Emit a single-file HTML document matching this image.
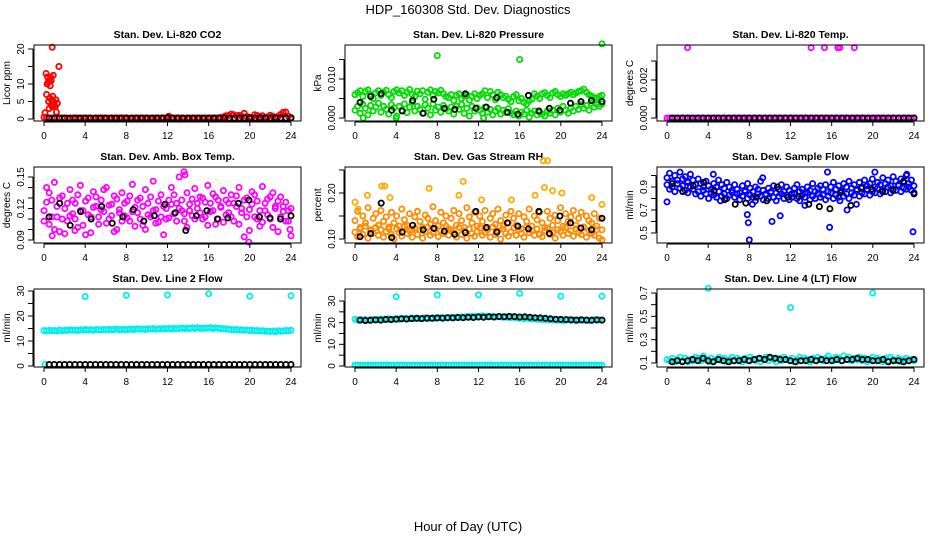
<!DOCTYPE html>
<html><head><meta charset="utf-8">
<style>
html,body{margin:0;padding:0;background:#fff;}
svg{display:block;font-family:"Liberation Sans",sans-serif;}
</style></head>
<body>
<svg id="chart" width="936" height="540" viewBox="0 0 936 540">
<text x="468" y="14" text-anchor="middle" font-size="13">HDP_160308  Std. Dev. Diagnostics</text>
<text x="468" y="531" text-anchor="middle" font-size="13">Hour of Day (UTC)</text>
</svg>
<script>
// ---------- data ----------
const xTicks = [0,4,8,12,16,20,24];
// Panel 1: CO2
const co2Red = [0.5,0.4,0.3,0.3,0.2,0.3,0.3,0.3,0.2,0.3,0.3,0.3,
0.3,0.3,0.2,0.3,0.3,0.3,0.3,0.2,0.3,0.3,0.3,0.3,
0.3,0.2,0.3,0.3,0.3,0.3,0.3,0.3,0.3,0.2,0.3,0.3,
0.3,0.3,0.3,0.3,0.3,0.2,0.3,0.3,0.3,0.3,0.3,0.3,
0.8,0.3,0.3,0.3,0.3,0.3,0.2,0.3,0.3,0.3,0.3,0.3,
0.3,0.3,0.3,0.3,0.3,0.3,0.3,0.3,0.4,0.6,0.9,1.0,
1.4,1.2,0.9,1.1,0.8,1.6,0.7,0.5,0.4,1.2,1.0,0.6,
0.9,0.5,0.6,1.1,0.8,0.5,0.7,1.3,1.9,2.0,0.8,0.4];
const co2BurstHours = [0.1,0.2,0.25,0.3,0.35,0.4,0.45,0.5,0.5,0.55,0.6,0.65,0.7,0.7,0.75,0.8,0.8,0.85,0.9,0.9,1.0,1.1,1.15,1.2,1.3,1.45];
const co2BurstValues = [1.8,13,7,10,12,10.5,5,11,3,6,9.5,12,4,11,5.5,20.5,3.5,6.5,12.5,5,4,3.5,5.5,2,4.5,15];
const co2Black = [0.3,0.3,0.3,0.3,0.2,0.3,0.3,0.3,0.3,0.3,0.3,0.3,0.3,0.3,0.3,0.3,0.3,0.3,0.3,0.3,0.3,0.3,0.3,0.4,0.3,0.3,0.3,0.3,0.3,0.3,0.3,0.3,0.3,0.3,0.3,0.3,0.3,0.3,0.3,0.3,0.3,0.3,0.3,0.3,0.3,0.3,0.3,0.3];
// Panel 2: pressure
const presUpper = [0.0060,0.0065,0.0070,0.0055,0.0068,0.0072,0.0060,0.0050,0.0065,0.0070,0.0058,0.0066,
0.0071,0.0060,0.0052,0.0068,0.0072,0.0064,0.0070,0.0058,0.0066,0.0073,0.0060,0.0055,
0.0069,0.0062,0.0070,0.0048,0.0066,0.0072,0.0058,0.0068,0.0064,0.0071,0.0062,0.0055,
0.0052,0.0060,0.0045,0.0058,0.0062,0.0050,0.0056,0.0060,0.0046,0.0055,0.0062,0.0050,
0.0058,0.0062,0.0070,0.0052,0.0068,0.0060,0.0047,0.0066,0.0060,0.0052,0.0056,0.0048,
0.0042,0.0055,0.0060,0.0044,0.0050,0.0040,0.0036,0.0044,0.0048,0.0062,0.0056,0.0050,
0.0062,0.0065,0.0058,0.0052,0.0064,0.0068,0.0060,0.0055,0.0062,0.0058,0.0062,0.0066,
0.0060,0.0064,0.0068,0.0070,0.0074,0.0066,0.0060,0.0056,0.0052,0.0050,0.0055,0.0058];
const presLower = [0.0020,0.0030,0.0012,0.0035,0.0025,0.0008,0.0032,0.0018,0.0028,0.0038,0.0015,0.0030,
0.0022,0.0010,0.0034,0.0026,0.0005,0.0030,0.0020,0.0036,0.0014,0.0028,0.0040,0.0018,
0.0030,0.0022,0.0012,0.0034,0.0025,0.0008,0.0036,0.0020,0.0028,0.0015,0.0032,0.0024,
0.0018,0.0028,0.0010,0.0030,0.0022,0.0035,0.0012,0.0025,0.0005,0.0030,0.0018,0.0026,
0.0020,0.0012,0.0028,0.0015,0.0022,0.0008,0.0018,0.0025,0.0010,0.0020,0.0014,0.0024,
0.0012,0.0008,0.0018,0.0005,0.0015,0.0010,0.0020,0.0002,0.0012,0.0018,0.0008,0.0015,
0.0010,0.0005,0.0018,0.0012,0.0020,0.0008,0.0025,0.0015,0.0030,0.0020,0.0012,0.0026,
0.0018,0.0030,0.0022,0.0035,0.0025,0.0032,0.0020,0.0038,0.0028,0.0034,0.0030,0.0036];
const presOutHours = [8,16,24,0.8,4.0,12.5];
const presOutValues = [0.0160,0.0150,0.0190,0.0,0.0,0.0];
const presBlack = [0.0040,0.0055,0.0062,0.0020,0.0018,0.0045,0.0012,0.0048,0.0025,0.0022,0.0062,0.0025,0.0028,0.0052,0.0015,0.0010,0.0058,0.0018,0.0025,0.0020,0.0038,0.0042,0.0045,0.0042];
// Panel 3: Li-820 temp
const tempMag = new Array(96).fill(0);
const tempOutHours = [2,14,15.3,16.6,16.8,18.2];
const tempOutValues = [0.0037,0.0037,0.0037,0.0037,0.0037,0.0037];
const tempBlack = new Array(48).fill(0);
// Panel 4: ambient box temp
const boxA = [0.118,0.140,0.105,0.128,0.145,0.112,0.098,0.132,0.120,0.108,0.138,0.115,
0.125,0.102,0.142,0.118,0.095,0.130,0.112,0.136,0.122,0.105,0.128,0.117,
0.140,0.110,0.124,0.132,0.100,0.119,0.135,0.113,0.127,0.108,0.143,0.121,
0.116,0.130,0.104,0.138,0.125,0.112,0.146,0.119,0.107,0.133,0.122,0.110,
0.128,0.140,0.115,0.125,0.150,0.118,0.108,0.135,0.124,0.113,0.139,0.120,
0.131,0.110,0.126,0.142,0.117,0.134,0.105,0.128,0.121,0.137,0.114,0.125,
0.133,0.108,0.122,0.140,0.116,0.093,0.130,0.119,0.136,0.112,0.127,0.103,
0.141,0.118,0.129,0.110,0.135,0.122,0.098,0.131,0.117,0.126,0.108,0.120];
const boxB = [0.108,0.126,0.135,0.112,0.100,0.122,0.130,0.110,0.096,0.125,0.113,0.128,
0.110,0.133,0.118,0.104,0.127,0.114,0.097,0.121,0.131,0.112,0.119,0.138,
0.106,0.123,0.113,0.098,0.129,0.116,0.108,0.125,0.111,0.132,0.117,0.103,
0.128,0.110,0.122,0.100,0.114,0.131,0.118,0.106,0.127,0.112,0.095,0.120,
0.111,0.124,0.133,0.108,0.120,0.128,0.115,0.102,0.118,0.129,0.110,0.125,
0.116,0.130,0.112,0.104,0.125,0.118,0.131,0.110,0.122,0.107,0.128,0.116,
0.112,0.125,0.132,0.105,0.120,0.128,0.112,0.099,0.124,0.133,0.110,0.118,
0.107,0.125,0.114,0.131,0.102,0.120,0.127,0.112,0.122,0.108,0.118,0.094];
const boxOutHours = [13.6,13.7,19.9,0.8,3.0,23.9];
const boxOutValues = [0.155,0.152,0.088,0.094,0.099,0.100];
const boxBlack = [0.112,0.125,0.104,0.117,0.110,0.122,0.106,0.112,0.119,0.108,0.113,0.124,0.116,0.099,0.113,0.118,0.110,0.111,0.125,0.128,0.112,0.111,0.110,0.113];
// Panel 5: gas stream RH
const rhA = [0.140,0.160,0.125,0.150,0.135,0.168,0.120,0.145,0.155,0.130,0.162,0.138,
0.148,0.122,0.158,0.135,0.150,0.128,0.165,0.142,0.130,0.155,0.120,0.148,
0.160,0.138,0.125,0.152,0.145,0.132,0.170,0.140,0.128,0.158,0.135,0.150,
0.122,0.145,0.162,0.130,0.155,0.140,0.125,0.168,0.148,0.135,0.158,0.128,
0.150,0.138,0.162,0.125,0.145,0.155,0.132,0.165,0.140,0.128,0.152,0.135,
0.160,0.145,0.130,0.155,0.122,0.148,0.138,0.165,0.128,0.150,0.142,0.158,
0.135,0.125,0.160,0.145,0.130,0.152,0.140,0.168,0.128,0.155,0.138,0.148,
0.162,0.130,0.145,0.158,0.125,0.150,0.140,0.135,0.155,0.128,0.145,0.120];
const rhB = [0.115,0.105,0.122,0.110,0.128,0.102,0.118,0.112,0.125,0.108,0.120,0.104,
0.116,0.126,0.110,0.100,0.122,0.114,0.106,0.128,0.112,0.118,0.104,0.124,
0.110,0.120,0.102,0.116,0.126,0.108,0.114,0.122,0.105,0.118,0.112,0.128,
0.108,0.120,0.114,0.104,0.125,0.110,0.118,0.102,0.122,0.112,0.106,0.116,
0.124,0.108,0.114,0.120,0.104,0.126,0.110,0.118,0.100,0.122,0.112,0.106,
0.116,0.124,0.108,0.120,0.112,0.104,0.126,0.114,0.118,0.108,0.122,0.110,
0.105,0.118,0.124,0.110,0.114,0.102,0.120,0.116,0.108,0.125,0.112,0.118,
0.106,0.122,0.114,0.110,0.126,0.104,0.118,0.112,0.108,0.120,0.102,0.098];
const rhOutHours = [0,0.3,1.2,2.6,2.9,3.4,7.2,10.1,10.5,17.5,18.3,18.7,18.4,19.2,20.1,23,24,15.2,12.3];
const rhOutValues = [0.180,0.165,0.195,0.215,0.215,0.190,0.210,0.195,0.225,0.195,0.270,0.270,0.212,0.205,0.200,0.190,0.175,0.185,0.185];
const rhBlack = [0.105,0.112,0.178,0.103,0.115,0.130,0.120,0.123,0.117,0.110,0.114,0.160,0.125,0.115,0.135,0.128,0.122,0.160,0.112,0.150,0.135,0.124,0.120,0.145];
// Panel 6: sample flow
const flowA = [0.98,1.02,0.95,1.00,0.96,1.03,0.97,0.99,0.94,1.01,0.96,0.92,
0.97,0.93,0.90,0.95,0.91,0.88,0.93,0.90,0.86,0.92,0.89,0.94,
0.90,0.87,0.92,0.88,0.85,0.91,0.87,0.93,0.89,0.86,0.90,0.88,
0.95,0.87,0.84,0.89,0.86,0.91,0.85,0.88,0.92,0.86,0.90,0.87,
0.84,0.89,0.92,0.86,0.88,0.85,0.90,0.87,0.93,0.86,0.89,0.91,
0.88,0.92,0.86,0.90,0.94,0.88,0.91,0.87,0.93,0.90,0.95,0.89,
0.92,0.88,0.94,0.90,0.96,0.91,0.93,0.97,0.90,0.94,0.92,0.98,
0.93,0.96,0.91,0.99,0.95,0.92,0.97,0.94,1.00,0.93,0.96,0.91];
const flowB = [0.92,0.88,0.90,0.86,0.93,0.89,0.91,0.87,0.85,0.90,0.88,0.84,
0.86,0.82,0.87,0.84,0.80,0.85,0.83,0.81,0.86,0.82,0.84,0.80,
0.83,0.85,0.81,0.84,0.79,0.82,0.86,0.80,0.83,0.81,0.78,0.84,
0.82,0.79,0.83,0.80,0.85,0.81,0.78,0.82,0.84,0.80,0.83,0.79,
0.81,0.84,0.80,0.78,0.83,0.81,0.85,0.79,0.82,0.80,0.84,0.81,
0.83,0.79,0.82,0.85,0.80,0.83,0.81,0.86,0.82,0.84,0.80,0.85,
0.83,0.87,0.82,0.85,0.84,0.88,0.83,0.86,0.85,0.89,0.84,0.87,
0.86,0.90,0.85,0.88,0.87,0.91,0.86,0.89,0.88,0.90,0.87,0.85];
const flowOutHours = [0,2,4.5,5,5.2,7.8,7.9,8.0,8.3,9.3,10.2,11,13.4,15.8,15.6,16.8,17.5,18.4,20.2,23.9,23.3];
const flowOutValues = [0.77,0.95,1.01,0.96,0.78,0.66,0.59,0.44,0.75,0.98,0.60,0.65,0.74,0.55,1.03,0.78,0.70,0.75,1.03,0.51,1.01];
const flowBlack = [0.93,0.86,0.91,0.94,0.87,0.79,0.75,0.76,0.81,0.78,0.90,0.81,0.82,0.75,0.73,0.71,0.85,0.74,0.89,0.88,0.86,0.87,0.95,0.84];
// Panel 7: line 2 flow
const line2Cyan = [14.2,14.0,14.3,14.1,14.2,14.0,14.4,14.1,14.3,14.2,14.5,14.3,
14.4,14.2,14.5,14.3,14.6,14.4,14.5,14.3,14.6,14.5,14.4,14.6,
14.5,14.7,14.4,14.6,14.8,14.5,14.6,14.7,14.5,14.8,14.6,14.7,
14.9,14.7,14.8,14.6,14.9,14.8,15.0,14.7,14.9,14.8,15.0,14.9,
15.0,14.8,15.1,14.9,15.0,15.2,14.9,15.1,15.0,15.2,15.0,15.3,
15.1,15.0,15.2,15.1,15.3,15.0,15.2,15.1,14.9,15.0,14.8,14.7,
14.6,14.5,14.6,14.4,14.5,14.3,14.4,14.2,14.3,14.1,14.2,14.0,
14.1,13.9,14.0,13.8,14.0,13.7,14.1,13.9,14.0,14.2,14.1,14.3];
const line2OutHours = [4,8,12,16,20,24,0.1];
const line2OutValues = [27.8,28.3,28.4,28.9,27.9,28.1,0.7];
const line2Black = [0.6,0.6,0.6,0.6,0.6,0.6,0.6,0.6,0.6,0.6,0.6,0.6,0.6,0.6,0.6,0.6,0.6,0.6,0.6,0.6,0.6,0.6,0.6,0.6,0.6,0.6,0.6,0.6,0.6,0.6,0.6,0.6,0.6,0.6,0.6,0.6,0.6,0.6,0.6,0.6,0.6,0.6,0.6,0.6,0.6,0.6,0.6,0.6];
// Panel 8: line 3 flow
const line3Zero = new Array(96).fill(0.4);
const line3Cyan = [21.6,21.2,21.4,21.3,21.5,21.2,21.4,21.6,21.3,21.5,21.7,21.4,
21.6,21.8,21.5,21.7,21.9,21.6,21.8,22.0,21.7,21.9,22.1,21.8,
22.0,21.8,22.1,22.2,21.9,22.1,22.3,22.0,22.2,22.4,22.1,22.3,
22.2,22.5,22.3,22.6,22.4,22.7,22.5,22.8,22.6,22.9,22.7,23.0,
22.8,23.1,22.9,22.7,23.0,22.8,22.6,22.9,22.7,22.5,22.6,22.4,
22.3,22.5,22.2,22.0,22.2,21.9,22.1,21.8,21.6,21.8,21.5,21.7,
21.4,21.6,21.3,21.5,21.2,21.4,21.1,21.3,21.0,21.2,21.4,21.1,
21.3,21.0,21.2,21.4,21.1,21.3,21.0,21.2,21.4,21.1,21.3,21.2];
const line3OutHours = [4,8,12,16,20,24];
const line3OutValues = [32.0,32.8,32.8,33.5,32.2,32.2];
const line3Black = [21.2,21.0,21.1,21.3,21.2,21.5,21.4,21.6,21.8,21.7,21.9,22.0,21.9,22.1,22.0,22.2,22.1,22.3,22.2,22.4,22.3,22.5,22.4,22.6,22.5,22.7,22.6,22.8,22.7,22.9,22.8,22.6,22.7,22.5,22.3,22.2,22.0,21.8,21.6,21.5,21.4,21.3,21.2,21.3,21.2,21.1,21.3,21.2];
// Panel 9: line 4 flow
const line4Cyan = [0.13,0.12,0.14,0.11,0.13,0.15,0.12,0.14,0.11,0.13,0.12,0.15,
0.14,0.12,0.16,0.13,0.11,0.14,0.12,0.13,0.15,0.12,0.14,0.11,
0.13,0.15,0.12,0.14,0.13,0.11,0.14,0.12,0.15,0.13,0.12,0.14,
0.11,0.13,0.15,0.12,0.14,0.13,0.11,0.14,0.12,0.15,0.13,0.12,
0.14,0.11,0.13,0.15,0.12,0.14,0.13,0.11,0.14,0.12,0.15,0.13,
0.12,0.14,0.16,0.13,0.12,0.15,0.14,0.12,0.16,0.13,0.15,0.12,
0.14,0.13,0.15,0.12,0.14,0.11,0.13,0.15,0.12,0.14,0.13,0.11,
0.14,0.12,0.15,0.13,0.12,0.14,0.11,0.13,0.14,0.12,0.13,0.12];
const line4OutHours = [4,12,20];
const line4OutValues = [0.74,0.575,0.70];
const line4Black = [0.11,0.12,0.11,0.12,0.13,0.12,0.14,0.12,0.11,0.13,0.12,0.11,0.12,0.12,0.13,0.12,0.13,0.14,0.13,0.15,0.14,0.13,0.13,0.12,0.11,0.12,0.12,0.13,0.12,0.13,0.12,0.12,0.13,0.12,0.13,0.13,0.14,0.13,0.13,0.12,0.12,0.13,0.11,0.12,0.12,0.11,0.12,0.13];

// ---------- drawing ----------
const svg = document.getElementById('chart');
const NS = 'http://www.w3.org/2000/svg';
function mk(tag, attrs, parent){ const e=document.createElementNS(NS,tag); for(const k in attrs) e.setAttribute(k,attrs[k]); (parent||svg).appendChild(e); return e; }
const q = n => Array.from({length:n},(_,i)=>i*24/(n-1));
const hh = n => Array.from({length:n},(_,i)=>0.5+i*23.5/(n-1));

const cols = [[34,301],[345,612],[657,924]];
const rows = [[45,121],[167,243],[289,367]];

const panels = [
 {name:'co2',title:'Stan. Dev. Li-820 CO2',ylab:'Licor ppm',c:0,r:0,v0:0,p0:119,v1:20,p1:49,ticks:[0,5,10,15,20],labels:['0','5','10','','20'],
  series:[{x:q(96),y:co2Red,col:'#ff0000',n:'co2-series'},{x:co2BurstHours,y:co2BurstValues,col:'#ff0000',n:'co2-burst-point'},{x:hh(48),y:co2Black,col:'#000',n:'co2-hourly-point'}]},
 {name:'pressure',title:'Stan. Dev. Li-820 Pressure',ylab:'kPa',c:1,r:0,v0:0,p0:118,v1:0.010,p1:79,ticks:[0,0.005,0.010,0.015],labels:['0.000','','0.010',''],
  series:[{x:q(96),y:presUpper,col:'#00dd00',n:'pressure-point'},{x:q(96),y:presLower,col:'#00dd00',n:'pressure-point'},{x:presOutHours,y:presOutValues,col:'#00dd00',n:'pressure-outlier'},{x:hh(24),y:presBlack,col:'#000',n:'pressure-hourly-point'}]},
 {name:'licor-temp',title:'Stan. Dev. Li-820 Temp.',ylab:'degrees C',c:2,r:0,v0:0,p0:118,v1:0.002,p1:80,ticks:[0,0.001,0.002,0.003],labels:['0.000','','0.002',''],
  series:[{x:q(96),y:tempMag,col:'#ff00ff',n:'licor-temp-point'},{x:tempOutHours,y:tempOutValues,col:'#ff00ff',n:'licor-temp-outlier'},{x:hh(48),y:tempBlack,col:'#000',n:'licor-temp-hourly-point'}]},
 {name:'box-temp',title:'Stan. Dev. Amb. Box Temp.',ylab:'degrees C',c:0,r:1,v0:0.09,p0:240,v1:0.15,p1:177,ticks:[0.09,0.10,0.11,0.12,0.13,0.14,0.15],labels:['0.09','','','0.12','','','0.15'],
  series:[{x:q(96),y:boxA,col:'#ff00ff',n:'box-temp-point'},{x:q(96),y:boxB,col:'#ff00ff',n:'box-temp-point'},{x:boxOutHours,y:boxOutValues,col:'#ff00ff',n:'box-temp-outlier'},{x:hh(24),y:boxBlack,col:'#000',n:'box-temp-hourly-point'}]},
 {name:'rh',title:'Stan. Dev. Gas Stream RH',ylab:'percent',c:1,r:1,v0:0.10,p0:239,v1:0.20,p1:193,ticks:[0.10,0.15,0.20,0.25],labels:['0.10','','0.20',''],
  series:[{x:q(96),y:rhA,col:'#ff8a00',n:'rh-point'},{x:q(96),y:rhB,col:'#ff8a00',n:'rh-point'},{x:rhOutHours,y:rhOutValues,col:'#ffaa00',n:'rh-outlier'},{x:hh(24),y:rhBlack,col:'#000',n:'rh-hourly-point'}]},
 {name:'sample-flow',title:'Stan. Dev. Sample Flow',ylab:'ml/min',c:2,r:1,v0:0.5,p0:233,v1:0.9,p1:187,ticks:[0.5,0.6,0.7,0.8,0.9,1.0],labels:['0.5','','0.7','','0.9',''],
  series:[{x:q(96),y:flowA,col:'#0000ff',n:'sample-flow-point'},{x:q(96),y:flowB,col:'#0000ff',n:'sample-flow-point'},{x:flowOutHours,y:flowOutValues,col:'#0000ff',n:'sample-flow-outlier'},{x:hh(24),y:flowBlack,col:'#000',n:'sample-flow-hourly-point'}]},
 {name:'line2',title:'Stan. Dev. Line 2 Flow',ylab:'ml/min',c:0,r:2,v0:0,p0:366,v1:30,p1:291,ticks:[0,5,10,15,20,25,30],labels:['0','','10','','20','','30'],
  series:[{x:q(96),y:line2Cyan,col:'#00eeee',n:'line2-point'},{x:line2OutHours,y:line2OutValues,col:'#00eeee',n:'line2-outlier'},{x:hh(48),y:line2Black,col:'#000',n:'line2-hourly-point'}]},
 {name:'line3',title:'Stan. Dev. Line 3 Flow',ylab:'ml/min',c:1,r:2,v0:0,p0:366,v1:30,p1:301,ticks:[0,5,10,15,20,25,30],labels:['0','','10','','20','','30'],
  series:[{x:q(96),y:line3Zero,col:'#00eeee',n:'line3-point'},{x:q(96),y:line3Cyan,col:'#00eeee',n:'line3-point'},{x:line3OutHours,y:line3OutValues,col:'#00eeee',n:'line3-outlier'},{x:hh(48),y:line3Black,col:'#000',n:'line3-hourly-point'}]},
 {name:'line4',title:'Stan. Dev. Line 4 (LT) Flow',ylab:'ml/min',c:2,r:2,v0:0.1,p0:363,v1:0.7,p1:293,ticks:[0.1,0.2,0.3,0.4,0.5,0.6,0.7],labels:['0.1','','0.3','','0.5','','0.7'],
  series:[{x:q(96),y:line4Cyan,col:'#00eeee',n:'line4-point'},{x:line4OutHours,y:line4OutValues,col:'#00eeee',n:'line4-outlier'},{x:hh(48),y:line4Black,col:'#000',n:'line4-hourly-point'}]}
];

panels.forEach(p=>{
  const [L,R]=cols[p.c], [T,B]=rows[p.r];
  const g = mk('g',{});
  
  
  const xs = h => L+10+h*(R-L-20)/24;
  const ys = v => p.p0+(v-p.v0)*(p.p1-p.p0)/(p.v1-p.v0);
  const t = mk('text',{x:(L+R)/2,y:T-7,'text-anchor':'middle','font-size':'10.5','font-weight':'bold'},g);
  t.textContent=p.title;
  
  
  const pts = mk('g',{},g);
  
  
  p.series.forEach(s=>{
    s.y.forEach((v,i)=>{
      const c = mk('circle',{cx:xs(s.x[i]).toFixed(1),cy:ys(v).toFixed(1),r:2.6,fill:'none',stroke:s.col,'stroke-width':1.8},pts);
      
      
    });
  });
  const box = mk('rect',{x:L,y:T,width:R-L,height:B-T,fill:'none',stroke:'#000','stroke-width':1},g);
  
  
  const xa = mk('g',{},g);
  
  
  mk('line',{x1:xs(0),x2:xs(24),y1:B+1,y2:B+1,stroke:'#000'},xa);
  xTicks.forEach(h=>{
    mk('line',{x1:xs(h),x2:xs(h),y1:B+1,y2:B+5,stroke:'#000'},xa);
    const tl = mk('text',{x:xs(h),y:B+18,'text-anchor':'middle','font-size':'10'},xa);
    tl.textContent=h;
    
    
  });
  const ya = mk('g',{},g);
  
  
  const ty = p.ticks.map(ys);
  mk('line',{x1:L-1,x2:L-1,y1:Math.min(...ty),y2:Math.max(...ty),stroke:'#000'},ya);
  p.ticks.forEach((v,i)=>{
    const y=ys(v);
    mk('line',{x1:L-6,x2:L-1,y1:y,y2:y,stroke:'#000'},ya);
    if(p.labels[i]){
      const tl = mk('text',{x:0,y:0,'text-anchor':'middle','font-size':'10',transform:`translate(${L-10},${y}) rotate(-90)`},ya);
      tl.textContent=p.labels[i];
      
      
    }
  });
  const yl = mk('text',{x:0,y:0,'text-anchor':'middle','font-size':'10',transform:`translate(${L-24},${(T+B)/2}) rotate(-90)`},g);
  yl.textContent=p.ylab;
  
  
});
</script>
</body></html>
